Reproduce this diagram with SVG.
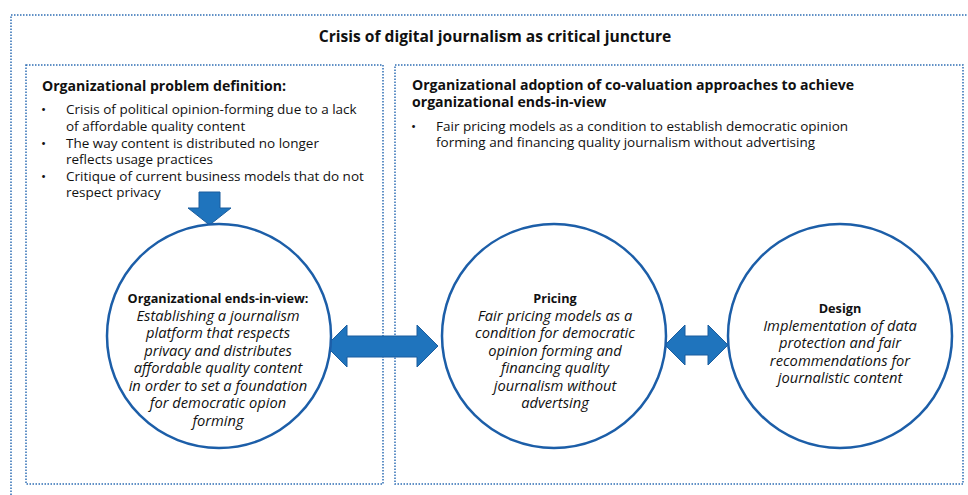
<svg xmlns="http://www.w3.org/2000/svg" width="968" height="495" viewBox="0 0 968 495">
<defs>
<style>
.box{fill:none;stroke:#2e6db4;stroke-width:1.5;stroke-dasharray:1.5 1.5}
.circ{fill:#fff;stroke:#1c5ea8;stroke-width:2.5}
.arr{fill:#1f74bd;stroke:#1b5d9e;stroke-width:1}
text{font-family:"Open Sans","Noto Sans",sans-serif;fill:#111}
.title{font-size:15.6px;font-weight:bold}
.head{font-size:14.1px;font-weight:bold}
.body{font-size:13.5px}
.cb{font-size:12.7px;font-weight:bold;text-anchor:middle}
.ci{font-size:14.7px;font-style:italic;text-anchor:middle}
</style>
</defs>
<rect width="968" height="495" fill="#fff"/>
<g id="outer">
<rect class="box" x="11" y="15" width="970" height="500"/>
<text class="title" x="495" y="42" text-anchor="middle">Crisis of digital journalism as critical juncture</text>
</g>
<g id="problem">
<rect class="box" x="26" y="65" width="357" height="419"/>
<text class="head" x="42" y="91">Organizational problem definition:</text>
<g class="body">
<text x="41" y="114">•</text><text x="66" y="114">Crisis of political opinion-forming due to a lack</text>
<text x="66" y="131">of affordable quality content</text>
<text x="41" y="148">•</text><text x="66" y="148">The way content is distributed no longer</text>
<text x="66" y="164">reflects usage practices</text>
<text x="41" y="181">•</text><text x="66" y="181">Critique of current business models that do not</text>
<text x="66" y="197">respect privacy</text>
</g>
</g>
<g id="adoption">
<rect class="box" x="395" y="65" width="568" height="419"/>
<text class="head" x="412" y="90">Organizational adoption of co-valuation approaches to achieve</text>
<text class="head" x="412" y="107">organizational ends-in-view</text>
<g class="body">
<text x="411" y="131">•</text><text x="436" y="131">Fair pricing models as a condition to establish democratic opinion</text>
<text x="436" y="147">forming and financing quality journalism without advertising</text>
</g>
</g>
<g id="connectors">
<polygon class="arr" points="199,192 220,192 220,208 231,208 209.5,225 188,208 199,208"/>
<polygon class="arr" points="326,346 347,325 347,336 417,336 417,325 438,346 417,367 417,357 347,357 347,367"/>
<polygon class="arr" points="665,345 685,325 685,336 708,336 708,325 728,345 708,365 708,355 685,355 685,365"/>
</g>
<g id="ends">
<circle class="circ" cx="219" cy="336" r="112"/>
<text class="cb" x="218" y="303">Organizational ends-in-view:</text>
<text class="ci" x="218" y="321">Establishing a journalism</text>
<text class="ci" x="218" y="338">platform that respects</text>
<text class="ci" x="218" y="356">privacy and distributes</text>
<text class="ci" x="218" y="373">affordable quality content</text>
<text class="ci" x="218" y="391">in order to set a foundation</text>
<text class="ci" x="218" y="408">for democratic opion</text>
<text class="ci" x="218" y="426">forming</text>
</g>
<g id="pricing">
<circle class="circ" cx="554" cy="336" r="112"/>
<text class="cb" x="555" y="303">Pricing</text>
<text class="ci" x="555" y="321">Fair pricing models as a</text>
<text class="ci" x="555" y="338">condition for democratic</text>
<text class="ci" x="555" y="356">opinion forming and</text>
<text class="ci" x="555" y="373">financing quality</text>
<text class="ci" x="555" y="391">journalism without</text>
<text class="ci" x="555" y="408">advertsing</text>
</g>
<g id="design">
<circle class="circ" cx="840" cy="336" r="112"/>
<text class="cb" x="840" y="313">Design</text>
<text class="ci" x="840" y="331">Implementation of data</text>
<text class="ci" x="840" y="348">protection and fair</text>
<text class="ci" x="840" y="366">recommendations for</text>
<text class="ci" x="840" y="383">journalistic content</text>
</g>
</svg>
